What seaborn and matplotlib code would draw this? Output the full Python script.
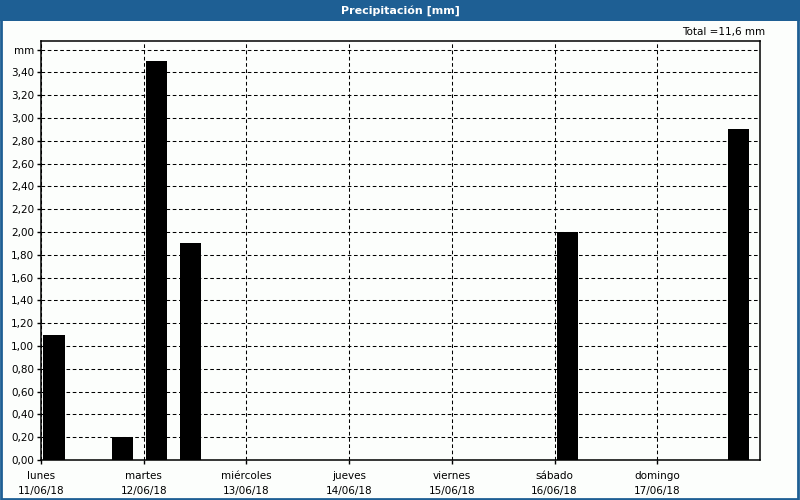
import matplotlib
matplotlib.use("Agg")
import matplotlib.pyplot as plt
import seaborn as sns
import pandas as pd
from matplotlib.patches import Rectangle

# Data: hours since Monday 11/06/18 00:00 (bar centres), precipitation in mm
hours = [3, 19, 27, 35, 123, 163]
precip = [1.1, 0.2, 3.5, 1.9, 2.0, 2.9]
day_names = ["lunes", "martes", "miércoles", "jueves", "viernes", "sábado", "domingo"]
day_dates = ["11/06/18", "12/06/18", "13/06/18", "14/06/18", "15/06/18", "16/06/18", "17/06/18"]
y_ticks = [0.0, 0.2, 0.4, 0.6, 0.8, 1.0, 1.2, 1.4, 1.6, 1.8, 2.0, 2.2, 2.4, 2.6, 2.8, 3.0, 3.2, 3.4, 3.6]
title = "Precipitación [mm]"
total_text = "Total =11,6 mm"

sns.set_theme(style="white")
plt.rcParams["font.family"] = ["DejaVu Sans"]

BLUE = "#1e5f94"
BG = "#fcfefc"

fig = plt.figure(figsize=(8, 5), dpi=100, facecolor=BG)
ax = fig.add_axes([41 / 800, 1 - 460 / 500, (760 - 41) / 800, (460 - 40.5) / 500])
ax.set_facecolor(BG)

df = pd.DataFrame({"hour": hours, "mm": precip})
sns.barplot(data=df, x="hour", y="mm", native_scale=True, width=5 / 8,
            color="black", saturation=1, edgecolor="black", linewidth=0, ax=ax, zorder=3)

ax.set_xlim(0, 168)
ax.set_ylim(0, 3.68)
ax.set_xticks([24 * i for i in range(7)])
ax.set_xticklabels([f"{n}\n{d}" for n, d in zip(day_names, day_dates)],
                   fontsize=7.5, linespacing=1.6)
ax.set_yticks(y_ticks)
ylabels = [f"{v:.2f}".replace(".", ",") for v in y_ticks]
ylabels[-1] = "mm"
ax.set_yticklabels(ylabels, fontsize=7.5)
ax.set_xlabel("")
ax.set_ylabel("")

ax.grid(True, color="black", linestyle=(0, (3.5, 2.5)), linewidth=0.75, zorder=1)
ax.set_axisbelow(True)
for s in ax.spines.values():
    s.set_color("black")
    s.set_linewidth(1.1)
ax.tick_params(axis="both", which="both", direction="out", length=3, width=1, color="black",
               labelcolor="black", pad=2, left=True, bottom=True)
ax.tick_params(axis="x", pad=5)

# title bar, border and total
fig.patches.append(Rectangle((0, 1 - 21 / 500), 1, 21 / 500, transform=fig.transFigure,
                             facecolor=BLUE, edgecolor="none", zorder=0))
fig.patches.append(Rectangle((0.001, 0.002), 0.997, 0.996, transform=fig.transFigure,
                             facecolor="none", edgecolor=BLUE, linewidth=2, zorder=5))
fig.text(0.5, 1 - 10.5 / 500, title, ha="center", va="center", color="white",
         fontsize=8, fontweight="bold")
fig.text(765 / 800, 1 - 32 / 500, total_text, ha="right", va="center", color="black", fontsize=7.5)

fig.savefig("out.png", dpi=100, facecolor=BG)
